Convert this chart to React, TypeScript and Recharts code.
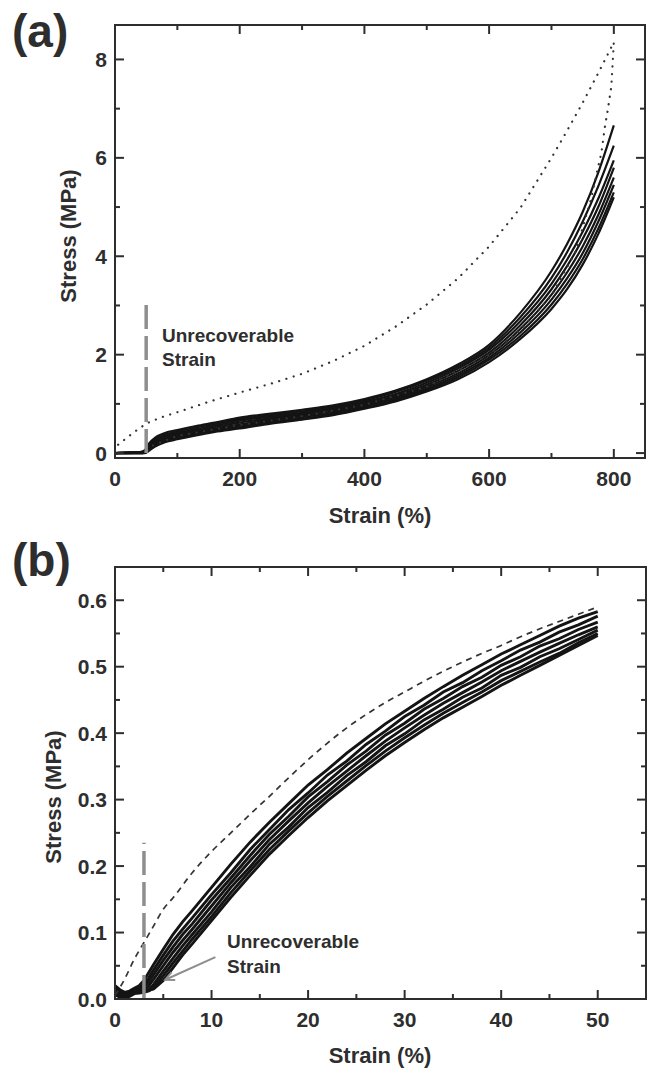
import React from 'react';
import { LineChart, Line, XAxis, YAxis, ReferenceLine } from 'recharts';

// ---- panel (a): full cycles, 0-800 % strain ----
const A_STRAIN = [0, 20, 40, 48, 55, 65, 80, 100, 130, 160, 200, 250, 300, 350, 400, 450, 500, 550, 600, 650, 700, 725, 750, 775, 800];
const A_CYCLE_1 = [0.0, 0.01, 0.02, 0.06, 0.2, 0.32, 0.41, 0.47, 0.55, 0.62, 0.72, 0.8, 0.88, 0.97, 1.1, 1.27, 1.5, 1.8, 2.2, 2.85, 3.7, 4.25, 4.9, 5.7, 6.66];
const A_CYCLE_2 = [0.0, 0.01, 0.02, 0.05, 0.18, 0.3, 0.38, 0.44, 0.52, 0.59, 0.69, 0.77, 0.85, 0.94, 1.07, 1.24, 1.47, 1.76, 2.15, 2.76, 3.56, 4.08, 4.7, 5.42, 6.25];
const A_CYCLE_3 = [0.0, 0.01, 0.01, 0.04, 0.16, 0.27, 0.35, 0.41, 0.49, 0.56, 0.66, 0.74, 0.82, 0.91, 1.04, 1.2, 1.43, 1.72, 2.1, 2.68, 3.44, 3.93, 4.5, 5.17, 5.95];
const A_CYCLE_4 = [0.0, 0.01, 0.01, 0.03, 0.13, 0.24, 0.32, 0.38, 0.46, 0.53, 0.62, 0.71, 0.79, 0.88, 1.01, 1.17, 1.39, 1.67, 2.04, 2.6, 3.33, 3.8, 4.35, 5.0, 5.8];
const A_CYCLE_5 = [0.0, 0.0, 0.01, 0.02, 0.11, 0.21, 0.29, 0.35, 0.43, 0.5, 0.58, 0.68, 0.76, 0.85, 0.98, 1.14, 1.35, 1.62, 1.99, 2.52, 3.22, 3.67, 4.2, 4.84, 5.6];
const A_CYCLE_6 = [0.0, 0.0, 0.0, 0.01, 0.09, 0.19, 0.27, 0.32, 0.4, 0.47, 0.55, 0.65, 0.73, 0.82, 0.95, 1.11, 1.31, 1.58, 1.94, 2.45, 3.12, 3.55, 4.06, 4.7, 5.45];
const A_CYCLE_7 = [0.0, 0.0, 0.0, 0.01, 0.07, 0.16, 0.24, 0.3, 0.38, 0.45, 0.52, 0.62, 0.7, 0.79, 0.92, 1.08, 1.28, 1.54, 1.9, 2.38, 3.02, 3.44, 3.94, 4.56, 5.3];
const A_CYCLE_8 = [0.0, 0.0, 0.0, 0.0, 0.05, 0.14, 0.22, 0.28, 0.36, 0.43, 0.5, 0.6, 0.68, 0.77, 0.9, 1.05, 1.25, 1.5, 1.85, 2.32, 2.93, 3.33, 3.83, 4.45, 5.2];
const A_CYCLES = [A_CYCLE_1, A_CYCLE_2, A_CYCLE_3, A_CYCLE_4, A_CYCLE_5, A_CYCLE_6, A_CYCLE_7, A_CYCLE_8];

// first cycle (dotted): loading then unloading
const A_FIRST_STRAIN = [5, 10, 30, 50, 75, 100, 150, 200, 250, 300, 350, 400, 450, 500, 550, 600, 650, 700, 725, 750, 775, 800, 796, 790, 786, 780, 771, 763, 755, 739, 700, 650, 600, 500, 400, 300, 200, 100, 60, 50];
const A_FIRST_STRESS = [0.17, 0.22, 0.42, 0.6, 0.73, 0.83, 1.04, 1.23, 1.41, 1.61, 1.87, 2.18, 2.57, 3.02, 3.55, 4.2, 4.98, 6.0, 6.55, 7.12, 7.72, 8.35, 7.45, 6.95, 6.66, 6.1, 5.6, 5.14, 4.8, 4.1, 3.2, 2.5, 2.0, 1.35, 0.98, 0.75, 0.57, 0.35, 0.15, 0.02];

const A_X_TICKS = [0, 100, 200, 300, 400, 500, 600, 700, 800];
const A_Y_TICKS = [0, 1, 2, 3, 4, 5, 6, 7, 8];
const A_X_DOMAIN = [0, 850];
const A_Y_DOMAIN = [-0.1, 8.7];

// ---- panel (b): zoom 0-50 % strain ----
const B_STRAIN = [0, 0.5, 1, 1.5, 2, 2.5, 3, 3.5, 4, 5, 6, 7, 8, 10, 12, 14, 16, 18, 20, 22, 24, 26, 28, 30, 32, 34, 36, 38, 40, 42, 44, 46, 48, 50];
const B_CYCLE_1 = [0.02, 0.014, 0.01, 0.012, 0.016, 0.02, 0.028, 0.04, 0.052, 0.075, 0.097, 0.116, 0.133, 0.168, 0.203, 0.236, 0.266, 0.294, 0.322, 0.345, 0.37, 0.392, 0.414, 0.433, 0.452, 0.47, 0.487, 0.503, 0.519, 0.533, 0.547, 0.561, 0.573, 0.583];
const B_CYCLE_2 = [0.016, 0.01, 0.006, 0.01, 0.014, 0.016, 0.022, 0.032, 0.044, 0.066, 0.087, 0.105, 0.122, 0.157, 0.19, 0.225, 0.255, 0.285, 0.31, 0.337, 0.358, 0.383, 0.403, 0.425, 0.442, 0.462, 0.476, 0.494, 0.509, 0.525, 0.537, 0.552, 0.563, 0.576];
const B_CYCLE_3 = [0.01, 0.006, 0.004, 0.008, 0.012, 0.014, 0.018, 0.026, 0.037, 0.058, 0.078, 0.097, 0.113, 0.149, 0.182, 0.216, 0.248, 0.275, 0.304, 0.327, 0.352, 0.373, 0.397, 0.415, 0.436, 0.452, 0.47, 0.484, 0.502, 0.515, 0.531, 0.542, 0.556, 0.567];
const B_CYCLE_4 = [0.012, 0.008, 0.005, 0.008, 0.012, 0.012, 0.013, 0.02, 0.03, 0.05, 0.07, 0.088, 0.105, 0.14, 0.175, 0.208, 0.24, 0.268, 0.295, 0.32, 0.343, 0.366, 0.388, 0.408, 0.427, 0.445, 0.461, 0.477, 0.494, 0.508, 0.522, 0.535, 0.548, 0.56];
const B_CYCLE_5 = [0.008, 0.004, 0.003, 0.006, 0.01, 0.01, 0.011, 0.014, 0.022, 0.042, 0.061, 0.08, 0.097, 0.131, 0.168, 0.199, 0.233, 0.259, 0.288, 0.311, 0.336, 0.357, 0.381, 0.399, 0.42, 0.436, 0.454, 0.468, 0.487, 0.499, 0.515, 0.527, 0.541, 0.555];
const B_CYCLE_6 = [0.006, 0.003, 0.002, 0.004, 0.008, 0.009, 0.01, 0.012, 0.017, 0.035, 0.054, 0.072, 0.09, 0.124, 0.16, 0.193, 0.225, 0.253, 0.28, 0.305, 0.328, 0.351, 0.373, 0.393, 0.412, 0.43, 0.446, 0.462, 0.479, 0.493, 0.507, 0.52, 0.536, 0.55];
const B_CYCLE_7 = [0.01, 0.006, 0.004, 0.006, 0.01, 0.011, 0.012, 0.013, 0.015, 0.028, 0.047, 0.066, 0.083, 0.118, 0.153, 0.186, 0.218, 0.246, 0.273, 0.298, 0.321, 0.344, 0.366, 0.386, 0.405, 0.423, 0.439, 0.455, 0.472, 0.487, 0.502, 0.517, 0.532, 0.547];
const B_CYCLES = [B_CYCLE_1, B_CYCLE_2, B_CYCLE_3, B_CYCLE_4, B_CYCLE_5, B_CYCLE_6, B_CYCLE_7];

const B_FIRST_STRAIN = [0, 1, 2, 3, 4, 5, 6, 8, 10, 12, 14, 16, 18, 20, 22, 24, 26, 28, 30, 32, 34, 36, 38, 40, 42, 44, 46, 48, 50];
const B_FIRST_STRESS = [0.005, 0.03, 0.06, 0.085, 0.11, 0.135, 0.152, 0.19, 0.222, 0.25, 0.278, 0.305, 0.333, 0.36, 0.385, 0.408, 0.428, 0.446, 0.462, 0.478, 0.493, 0.507, 0.52, 0.532, 0.545, 0.557, 0.568, 0.579, 0.59];

const B_X_TICKS = [0, 5, 10, 15, 20, 25, 30, 35, 40, 45, 50];
const B_Y_TICKS = [0, 0.05, 0.1, 0.15, 0.2, 0.25, 0.3, 0.35, 0.4, 0.45, 0.5, 0.55, 0.6];
const B_X_DOMAIN = [0, 55];
const B_Y_DOMAIN = [0, 0.65];

const FONT = '"Liberation Sans", Arial, sans-serif';
const INK = '#2e2e2e';
const GREY = '#8e8e8e';

// plot boxes on the page (set by the chart margins / axis sizes below)
const A_BOX = { left: 115, right: 645, top: 25, bottom: 458 };
const B_BOX = { left: 115, right: 646, top: 567, bottom: 999 };

const toPoints = (xs: number[], ys: number[]) => xs.map((x, i) => ({ x, y: ys[i] }));
const every = (step: number) => (v: number) => Math.abs(v / step - Math.round(v / step)) < 1e-6;

const makeLabel = (horiz: boolean, edge: number, isMajor: (v: number) => boolean, fmt: (v: number) => string) =>
  (p: any) => {
    const v = p.payload.value;
    const txt = { fontFamily: FONT, fontWeight: 700, fontSize: 21, fill: INK } as const;
    if (!isMajor(v)) return <g />;
    return horiz
      ? <text x={p.x} y={edge + 28} textAnchor="middle" style={txt}>{fmt(v)}</text>
      : <text x={edge - 8} y={p.y + 7.5} textAnchor="end" style={txt}>{fmt(v)}</text>;
  };

const axisLine = { stroke: INK, strokeWidth: 2 };

const arrowShape = (p: any) => {
  const { x1, y1, x2, y2 } = p;
  const ang = Math.atan2(y2 - y1, x2 - x1);
  const h = 10;
  const a1 = ang + Math.PI - 0.45;
  const a2 = ang + Math.PI + 0.45;
  return (
    <g>
      <line x1={x1} y1={y1} x2={x2} y2={y2} stroke={GREY} strokeWidth={2} />
      <polyline
        points={`${x2 + h * Math.cos(a1)},${y2 + h * Math.sin(a1)} ${x2},${y2} ${x2 + h * Math.cos(a2)},${y2 + h * Math.sin(a2)}`}
        fill="none"
        stroke={GREY}
        strokeWidth={2}
      />
    </g>
  );
};

// boxed frame with inward major/minor ticks on all four sides
function Frame({ box, xd, yd, xTicks, yTicks, xMajor, yMajor }: any) {
  const sx = (v: number) => box.left + ((v - xd[0]) / (xd[1] - xd[0])) * (box.right - box.left);
  const sy = (v: number) => box.bottom - ((v - yd[0]) / (yd[1] - yd[0])) * (box.bottom - box.top);
  return (
    <g stroke={INK} strokeWidth={2} fill="none">
      <rect x={box.left} y={box.top} width={box.right - box.left} height={box.bottom - box.top} />
      {xTicks.map((v: number) => {
        const l = xMajor(v) ? 9 : 5;
        const x = sx(v);
        return (
          <g key={`x${v}`}>
            <line x1={x} y1={box.bottom} x2={x} y2={box.bottom - l} />
            <line x1={x} y1={box.top} x2={x} y2={box.top + l} />
          </g>
        );
      })}
      {yTicks.map((v: number) => {
        const l = yMajor(v) ? 9 : 5;
        const y = sy(v);
        return (
          <g key={`y${v}`}>
            <line x1={box.left} y1={y} x2={box.left + l} y2={y} />
            <line x1={box.right} y1={y} x2={box.right - l} y2={y} />
          </g>
        );
      })}
    </g>
  );
}

function PanelA() {
  const fmt = (v: number) => String(v);
  return (
    <LineChart width={648} height={530} margin={{ top: 25, right: 3, bottom: 0, left: 0 }}>
      <XAxis xAxisId="b" type="number" dataKey="x" domain={A_X_DOMAIN} ticks={A_X_TICKS} interval={0}
        height={72} tickLine={false} axisLine={axisLine}
        tick={makeLabel(true, 458, every(200), fmt)} />
      <YAxis yAxisId="l" type="number" domain={A_Y_DOMAIN} ticks={A_Y_TICKS} interval={0}
        width={115} tickLine={false} axisLine={axisLine}
        tick={makeLabel(false, 115, every(2), fmt)} />
      {A_CYCLES.map((c, i) => (
        <Line key={`c${i}`} xAxisId="b" yAxisId="l" data={toPoints(A_STRAIN, c)} dataKey="y" type="monotone"
          stroke="#141414" strokeWidth={2.2} dot={false} activeDot={false} isAnimationActive={false} />
      ))}
      <Line xAxisId="b" yAxisId="l" data={toPoints(A_FIRST_STRAIN, A_FIRST_STRESS)} dataKey="y" type="linear"
        stroke="#333" strokeWidth={2.2} strokeDasharray="0.1 7.5" strokeLinecap="round"
        dot={false} activeDot={false} isAnimationActive={false} />
      <ReferenceLine xAxisId="b" yAxisId="l" segment={[{ x: 50, y: 0 }, { x: 50, y: 3.1 }]}
        stroke={GREY} strokeWidth={3.5} strokeDasharray="24 7" />
    </LineChart>
  );
}

function PanelB() {
  const fmt = (v: number) => v.toFixed(1);
  const fmtX = (v: number) => String(v);
  return (
    <LineChart width={648} height={538} margin={{ top: 37, right: 2, bottom: 0, left: 0 }}>
      <XAxis xAxisId="b" type="number" dataKey="x" domain={B_X_DOMAIN} ticks={B_X_TICKS} interval={0}
        height={69} tickLine={false} axisLine={axisLine}
        tick={makeLabel(true, 469, every(10), fmtX)} />
      <YAxis yAxisId="l" type="number" domain={B_Y_DOMAIN} ticks={B_Y_TICKS} interval={0}
        width={115} tickLine={false} axisLine={axisLine}
        tick={makeLabel(false, 115, every(0.1), fmt)} />
      {B_CYCLES.map((c, i) => (
        <Line key={`c${i}`} xAxisId="b" yAxisId="l" data={toPoints(B_STRAIN, c)} dataKey="y" type="linear"
          stroke="#141414" strokeWidth={2.9} dot={false} activeDot={false} isAnimationActive={false} />
      ))}
      <Line xAxisId="b" yAxisId="l" data={toPoints(B_FIRST_STRAIN, B_FIRST_STRESS)} dataKey="y" type="monotone"
        stroke="#333" strokeWidth={1.7} strokeDasharray="6 5"
        dot={false} activeDot={false} isAnimationActive={false} />
      <ReferenceLine xAxisId="b" yAxisId="l" segment={[{ x: 3, y: 0 }, { x: 3, y: 0.235 }]}
        stroke={GREY} strokeWidth={3.5} strokeDasharray="24 7" />
      <ReferenceLine xAxisId="b" yAxisId="l" segment={[{ x: 10.4, y: 0.063 }, { x: 5.2, y: 0.029 }]}
        shape={arrowShape} />
    </LineChart>
  );
}

export default function App() {
  const bold = { fontFamily: FONT, fontWeight: 700, fill: INK } as const;
  return (
    <div style={{ position: 'absolute', left: 0, top: 0, width: 648, height: 1068, background: '#fff' }}>
      <div style={{ position: 'absolute', left: 0, top: 0, width: 648, height: 530 }}>
        <PanelA />
      </div>
      <div style={{ position: 'absolute', left: 0, top: 530, width: 648, height: 538 }}>
        <PanelB />
      </div>
      <svg width={648} height={1068} style={{ position: 'absolute', left: 0, top: 0, pointerEvents: 'none' }}>
        <Frame box={A_BOX} xd={A_X_DOMAIN} yd={A_Y_DOMAIN} xTicks={A_X_TICKS} yTicks={A_Y_TICKS}
          xMajor={every(200)} yMajor={every(2)} />
        <Frame box={B_BOX} xd={B_X_DOMAIN} yd={B_Y_DOMAIN} xTicks={B_X_TICKS} yTicks={B_Y_TICKS}
          xMajor={every(10)} yMajor={every(0.1)} />
        <text x={12} y={47} style={{ ...bold, fontSize: 46 }}>(a)</text>
        <text x={12} y={576} style={{ ...bold, fontSize: 46 }}>(b)</text>
        <text x={68} y={236} dy="0.35em" textAnchor="middle" transform="rotate(-90 68 236)" style={{ ...bold, fontSize: 22 }}>Stress (MPa)</text>
        <text x={53} y={797} dy="0.35em" textAnchor="middle" transform="rotate(-90 53 797)" style={{ ...bold, fontSize: 22 }}>Stress (MPa)</text>
        <text x={380} y={523} textAnchor="middle" style={{ ...bold, fontSize: 22 }}>Strain (%)</text>
        <text x={380} y={1063} textAnchor="middle" style={{ ...bold, fontSize: 22 }}>Strain (%)</text>
        <text x={162} y={342} style={{ ...bold, fontSize: 19 }}>Unrecoverable</text>
        <text x={162} y={366} style={{ ...bold, fontSize: 19 }}>Strain</text>
        <text x={227} y={948} style={{ ...bold, fontSize: 19 }}>Unrecoverable</text>
        <text x={227} y={973} style={{ ...bold, fontSize: 19 }}>Strain</text>
      </svg>
    </div>
  );
}
